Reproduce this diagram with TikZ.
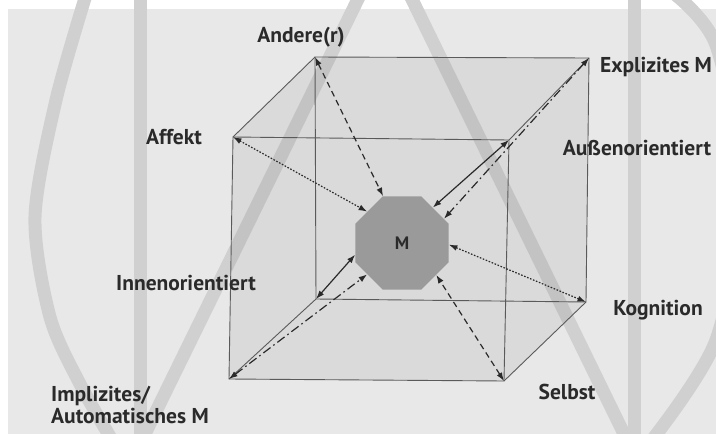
\documentclass[tikz,border=0pt]{standalone}
\usepackage{fontspec}
\setmainfont{PT Sans}
\usetikzlibrary{arrows.meta,shapes.geometric}
\definecolor{bggray}{HTML}{E8E8E8}
\definecolor{wmgray}{HTML}{D0D0D0}
\definecolor{edgegray}{HTML}{5A5A5A}
\definecolor{octgray}{HTML}{9A9A9A}
\definecolor{ink}{HTML}{2A2A2A}
\begin{document}
\begin{tikzpicture}[x=1pt,y=-1pt,
  lbl/.style={font=\fontsize{21.5}{22}\selectfont\bfseries, text=ink, inner sep=0pt},
  wm/.style={draw=wmgray, line width=13pt},
  edge/.style={draw=edgegray, line width=0.9pt},
  arr/.style={draw=ink, line width=1.2pt, {Latex[length=8.5pt,width=6pt]}-{Latex[length=8.5pt,width=6pt]}},
  dotline/.style={arr, dash pattern=on 1.6pt off 1.6pt},
  dashline/.style={arr, dash pattern=on 6pt off 4pt},
  dashdotline/.style={arr, dash pattern=on 9pt off 3.5pt on 1.6pt off 3.5pt},
  solidline/.style={arr}]
\useasboundingbox (0,0) rectangle (716,434);
\fill[white] (0,0) rectangle (716,434);
\fill[bggray] (8,9) rectangle (716,434);
% watermark
\begin{scope}
\clip (0,0) rectangle (716,434);
\draw[wm] (140,-5) -- (140,440);
\draw[wm] (634,-5) -- (634,440);
\draw[wm] (385,-56) -- (142,440);
\draw[wm] (385,-56) -- (627,440);
\draw[wm] plot[smooth] coordinates {(86,-5) (56,100) (35,217) (50,317) (80,384) (112,440)};
\draw[wm] plot[smooth] coordinates {(672,-8) (716,45) (742,190) (716,340) (652,440)};
\end{scope}
% cube corners
\coordinate (ftl) at (233,137);
\coordinate (ftr) at (509,140);
\coordinate (fbl) at (229,379);
\coordinate (fbr) at (504,381);
\coordinate (btl) at (315,57);
\coordinate (btr) at (589,58);
\coordinate (bbl) at (316,299);
\coordinate (bbr) at (586,302);
\fill[black, opacity=0.06] (ftl) -- (btl) -- (btr) -- (bbr) -- (fbr) -- (fbl) -- cycle;
% back edges
\draw[edge] (btl) -- (btr) -- (bbr) -- (bbl) -- cycle;
% front edges
\draw[edge] (ftl) -- (ftr) -- (fbr) -- (fbl) -- cycle;
% connecting edges
\draw[edge] (ftl) -- (btl);
\draw[edge] (ftr) -- (btr);
\draw[edge] (fbl) -- (bbl);
\draw[edge] (fbr) -- (bbr);
% central node
\node[regular polygon, regular polygon sides=8, minimum size=101pt, inner sep=0pt,
      fill=octgray, font=\fontsize{18}{18}\selectfont\bfseries, text=ink] (M) at (402,243) {M};
% connectors
\draw[dotline] (ftl) -- (M.138);
\draw[dashline] (btl) -- (M.112);
\draw[solidline] (ftr) -- (M.49);
\draw[dashdotline] (btr) -- (M.30);
\draw[dotline] (bbr) -- (M.-2);
\draw[dashline] (fbr) -- (M.-43);
\draw[solidline] (bbl) -- (M.194);
\draw[dashdotline] (fbl) -- (M.222);
% labels
\node[lbl] (andere) at (301,37) {Andere(r)};
\node[lbl] (affekt) at (174,137) {Affekt};
\node[lbl] (explizit) at (656,67) {Explizites M};
\node[lbl] (aussen) at (637,148) {Außenorientiert};
\node[lbl] (innen) at (186,283) {Innenorientiert};
\node[lbl] (kogn) at (658,310) {Kognition};
\node[lbl] (selbst) at (567,392) {Selbst};
\node[lbl, align=left, anchor=north west] (implizit) at (51,386) {Implizites/\\Automatisches M};
\end{tikzpicture}
\end{document}
